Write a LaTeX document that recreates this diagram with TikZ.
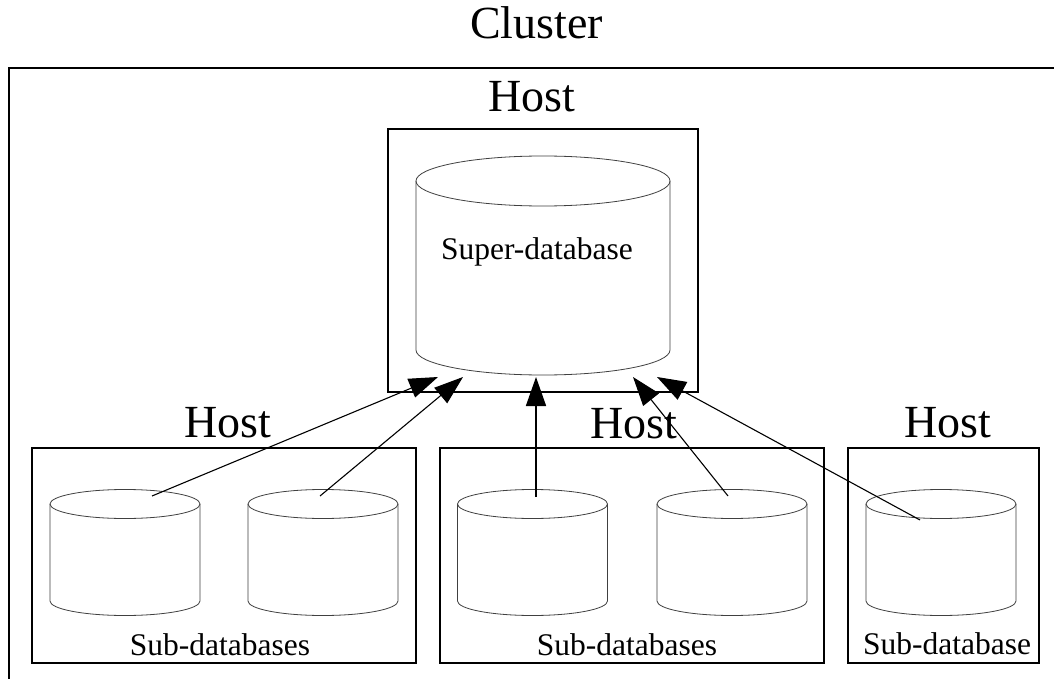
\documentclass[tikz,border=0pt]{standalone}
\usepackage{fontspec}
\setmainfont{Liberation Serif}
\usetikzlibrary{arrows.meta}
\tikzset{
  framebox/.style={draw, line width=2.2pt, inner sep=0pt},
  dbline/.style={line width=0.8pt, draw=black!75},
  link/.style={line width=1.1pt, -{Triangle[length=29pt,width=20pt]}},
  biglabel/.style={font=\fontsize{46}{50}\selectfont, anchor=base, inner sep=0pt},
  dblabel/.style={font=\fontsize{31.5}{34}\selectfont, anchor=base, inner sep=0pt},
}
\newcommand\dbcylinder[5]{% cx, ytop, ybot, rx, ry
  \draw[dbline] (#1,#2) ellipse [x radius=#4, y radius=#5];
  \draw[dbline] (#1-#4,#2) -- (#1-#4,#3) arc[start angle=180, end angle=0, x radius=#4, y radius=#5] -- (#1+#4,#2);
}
\begin{document}
\begin{tikzpicture}[x=1pt,y=-1pt]
\clip (0,0) rectangle (1054,679);
\fill[white] (0,0) rectangle (1054,679);

% cluster frame (continues beyond the page on the right and bottom)
\node[framebox, anchor=north west, minimum width=1100pt, minimum height=700pt] (cluster) at (8,67) {};
\node[biglabel] (clusterlabel) at (536.5,39) {Cluster};

% host boxes
\node[framebox, minimum width=310pt, minimum height=263pt] (hsuper) at (543,260.5) {};
\node[framebox, minimum width=384pt, minimum height=215pt] (hleft) at (224,555.5) {};
\node[framebox, minimum width=384pt, minimum height=215pt] (hmid) at (632,555.5) {};
\node[framebox, minimum width=191pt, minimum height=215pt] (hright) at (943.5,555.5) {};

\node[biglabel] (lsuper) at (531.5,112) {Host};
\node[biglabel] (lleft) at (227.5,437) {Host};
\node[biglabel] (lmid) at (634,438) {Host};
\node[biglabel] (lright) at (947.5,437) {Host};

% databases
\dbcylinder{543}{181}{350}{127}{25}
\dbcylinder{125}{504}{601}{75}{14.5}
\dbcylinder{323}{504}{601}{75}{14.5}
\dbcylinder{532.5}{504}{601}{75}{14.5}
\dbcylinder{732}{504}{601}{75}{14.5}
\dbcylinder{941}{504}{601}{75}{14.5}

\node[dblabel] (superlabel) at (537,259) {Super-database};
\node[dblabel] (subleft) at (220,655) {Sub-databases};
\node[dblabel] (submid) at (627,655) {Sub-databases};
\node[dblabel] (subright) at (947,654) {Sub-database};

% connector end points
\coordinate (s1) at (152,496);
\coordinate (s2) at (320,496);
\coordinate (s3) at (536,497);
\coordinate (s4) at (728,496);
\coordinate (s5) at (920,520);
\coordinate (t1) at (438,377);
\coordinate (t2) at (463,377);
\coordinate (t3) at (536,377);
\coordinate (t4) at (633,377);
\coordinate (t5) at (657,377);

\draw[link] (s1) -- (t1);
\draw[link] (s2) -- (t2);
\draw[link, line width=1.6pt] (s3) -- (t3);
\draw[link] (s4) -- (t4);
\draw[link] (s5) -- (t5);
\end{tikzpicture}
\end{document}
